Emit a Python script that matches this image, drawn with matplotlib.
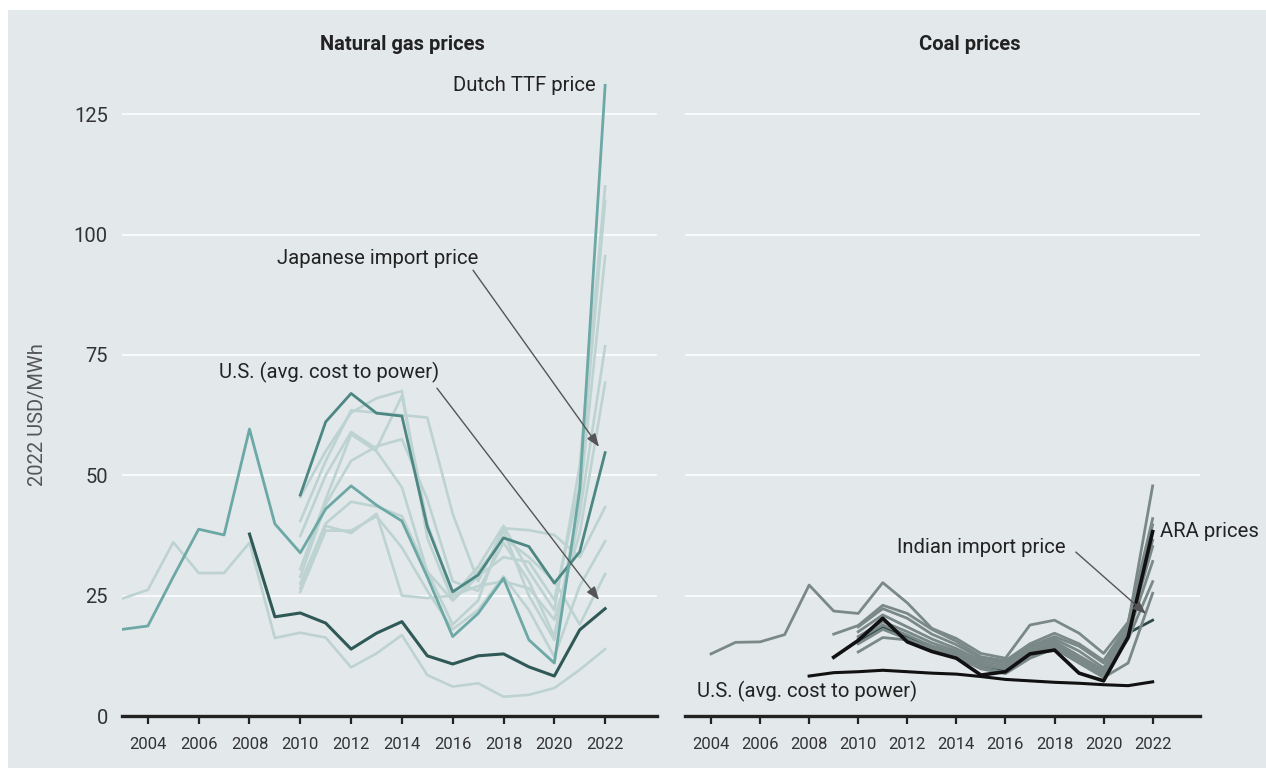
import matplotlib
matplotlib.use("Agg")
import matplotlib.pyplot as plt
from matplotlib.patches import Rectangle

plt.rcParams['font.family'] = ['Roboto', 'DejaVu Sans']

# ---------------- data ----------------
gas_years_long = list(range(2003, 2023))
ttf_price = [18.0, 18.7, 28.9, 38.8, 37.6, 59.6, 39.9, 33.9, 43.0, 47.8, 43.8, 40.5,
             28.9, 16.5, 21.3, 28.6, 15.8, 11.0, 47.0, 131.0]
gas_light_long = [24.4, 26.2, 36.1, 29.7, 29.7, 36.0, 16.2, 17.3, 16.3, 10.1, 13.0, 16.8,
                  8.5, 6.1, 6.8, 4.0, 4.4, 5.8, 9.6, 13.9]

us_gas_years = list(range(2008, 2023))
us_gas_cost = [37.8, 20.6, 21.4, 19.3, 13.9, 17.2, 19.6, 12.5, 10.8, 12.5, 12.9, 10.2, 8.3, 17.9, 22.3]

gas_years_short = list(range(2010, 2023))
japan_import = [45.9, 61.1, 67.0, 62.9, 62.3, 39.3, 25.8, 29.3, 37.0, 35.2, 27.6, 34.1, 54.7]
gas_light_a = [40.5, 53.0, 63.5, 63.0, 62.5, 62.0, 42.0, 28.0, 39.0, 38.6, 37.6, 33.0, 43.4]
gas_light_b = [37.4, 50.0, 59.0, 55.5, 66.5, 40.0, 25.0, 31.0, 39.5, 30.0, 22.0, 52.0, 110.0]
gas_light_c = [30.5, 45.0, 58.5, 55.0, 47.5, 30.0, 24.0, 29.0, 33.0, 32.0, 24.1, 48.0, 107.0]
gas_light_d = [28.9, 44.0, 53.0, 56.0, 57.5, 45.0, 28.0, 26.0, 36.0, 28.0, 16.5, 45.0, 95.5]
gas_light_e = [27.5, 40.0, 44.5, 43.5, 41.5, 30.0, 19.0, 24.0, 38.5, 25.0, 15.8, 42.0, 76.8]
gas_light_f = [26.5, 39.5, 38.0, 42.0, 25.0, 24.5, 25.0, 27.0, 28.0, 26.5, 20.0, 38.0, 69.2]
gas_light_g = [25.8, 38.5, 38.5, 41.5, 35.0, 26.0, 18.0, 22.0, 29.0, 22.0, 12.3, 27.0, 36.3]
gas_light_h = [45.5, 55.0, 63.0, 66.0, 67.5, 37.0, 24.0, 30.0, 37.0, 33.0, 28.0, 19.0, 29.5]

coal_years_long = list(range(2004, 2023))
coal_gray_long = [12.9, 15.3, 15.4, 16.9, 27.2, 21.8, 21.3, 27.7, 23.5, 18.2, 16.1, 13.0,
                  12.0, 18.9, 19.9, 17.2, 13.0, 19.5, 41.0]
coal_years_09 = list(range(2009, 2023))
coal_gray_1 = [17.0, 18.8, 23.0, 21.3, 18.0, 15.5, 12.3, 11.5, 15.0, 17.2, 15.0, 11.5, 19.0, 47.8]
ara_price = [12.2, 15.7, 20.3, 15.4, 13.4, 12.0, 8.5, 9.2, 12.9, 13.7, 8.9, 7.3, 16.4, 38.3]
coal_years_10 = list(range(2010, 2023))
coal_gray_2 = [18.5, 22.3, 20.3, 17.0, 14.8, 12.0, 11.0, 14.5, 16.5, 14.5, 11.0, 18.5, 39.7]
coal_gray_3 = [17.5, 21.0, 18.5, 16.0, 14.0, 11.5, 10.5, 14.0, 16.0, 13.5, 10.0, 18.0, 36.5]
coal_gray_4 = [16.5, 19.6, 17.5, 15.2, 13.5, 11.0, 10.0, 13.5, 15.5, 12.5, 9.5, 17.5, 35.2]
coal_gray_5 = [16.0, 18.9, 16.8, 14.5, 13.0, 10.5, 9.8, 13.0, 15.0, 12.0, 9.0, 17.0, 32.1]
coal_gray_6 = [13.3, 16.3, 15.8, 14.0, 12.5, 10.0, 9.0, 12.5, 14.5, 11.5, 8.5, 16.0, 27.9]
coal_gray_7 = [15.0, 18.0, 16.0, 13.8, 12.2, 9.8, 8.8, 12.0, 14.0, 11.0, 8.0, 11.0, 25.5]
india_import = [15.5, 18.5, 16.5, 14.5, 13.0, 10.5, 9.5, 13.0, 15.0, 11.5, 8.5, 17.2, 19.9]
us_coal_years = list(range(2008, 2023))
us_coal_cost = [8.3, 9.0, 9.2, 9.5, 9.2, 8.9, 8.7, 8.2, 7.6, 7.3, 7.0, 6.8, 6.5, 6.3, 7.1]

xtick_years = list(range(2004, 2023, 2))
yticks = [0, 25, 50, 75, 100, 125]

# ---------------- styling ----------------
BG = '#e3e8eb'
C_LIGHT = '#bdd3d1'
C_TTF = '#6ca8a5'
C_JAPAN = '#4d8783'
C_USGAS = '#2f5956'
C_COAL = '#7a8988'
C_BLACK = '#111111'
C_INDIA = '#2f4a48'
TXT = '#222222'
ANN_FS = 14.6

W, H = 1266, 771
fig = plt.figure(figsize=(W / 100, H / 100), dpi=100)
fig.patch.set_facecolor('white')
fig.add_artist(Rectangle((8 / W, 3 / H), 1 - 8 / W, 1 - 13 / H, transform=fig.transFigure,
                         facecolor=BG, edgecolor='none', zorder=0))

ax_bottom = (H - 716) / H
ax_height = (716 - 42) / H
ax1 = fig.add_axes([121.7 / W, ax_bottom, 535 / W, ax_height])
ax2 = fig.add_axes([685 / W, ax_bottom, 515 / W, ax_height])

for ax, xl in ((ax1, (2002.97, 2024.03)), (ax2, (2002.94, 2023.93))):
    ax.set_facecolor('none')
    ax.set_xlim(*xl)
    ax.set_ylim(0, 140)
    for s in ('top', 'right', 'left'):
        ax.spines[s].set_visible(False)
    ax.spines['bottom'].set_color('#222222')
    ax.spines['bottom'].set_linewidth(2.4)
    ax.spines['bottom'].set_zorder(5)
    ax.set_yticks(yticks)
    ax.grid(axis='y', color='white', linewidth=1.1, zorder=0)
    ax.set_axisbelow(True)
    ax.set_xticks(xtick_years)
    ax.set_xticklabels([str(y) for y in xtick_years])
    ax.tick_params(axis='x', direction='out', length=6, width=1.6, color='#222222',
                   labelsize=12, labelcolor='#333333', pad=9)
    ax.tick_params(axis='y', length=0, labelsize=14.5, labelcolor='#333333', pad=10)

ax2.tick_params(axis='y', labelleft=False)

# ---------------- natural gas ----------------
lw_light = 1.9
for series in (gas_light_a, gas_light_b, gas_light_c, gas_light_d,
               gas_light_e, gas_light_f, gas_light_g, gas_light_h):
    ax1.plot(gas_years_short, series, color=C_LIGHT, lw=lw_light, zorder=2)
ax1.plot(gas_years_long, gas_light_long, color=C_LIGHT, lw=lw_light, zorder=2)
ax1.plot(gas_years_short, japan_import, color=C_JAPAN, lw=2.0, zorder=3)
ax1.plot(us_gas_years, us_gas_cost, color=C_USGAS, lw=2.2, zorder=3)
ax1.plot(gas_years_long, ttf_price, color=C_TTF, lw=2.0, zorder=4)

arrow_kw = dict(arrowstyle='-|>,head_length=0.8,head_width=0.3', color='#555555', lw=1.0,
                shrinkA=0, shrinkB=0)
ax1.text(2021.64, 131, 'Dutch TTF price', ha='right', va='center', fontsize=ANN_FS, color=TXT)
ax1.text(2009.08, 95.1, 'Japanese import price', ha='left', va='center', fontsize=ANN_FS, color=TXT)
ax1.annotate('', xy=(2021.76, 55.9), xytext=(2016.8, 92.6), arrowprops=arrow_kw, zorder=6)
ax1.text(2006.8, 71.4, 'U.S. (avg. cost to power)', ha='left', va='center', fontsize=ANN_FS, color=TXT)
ax1.annotate('', xy=(2021.76, 24.1), xytext=(2015.38, 68.1), arrowprops=arrow_kw, zorder=6)

# ---------------- coal ----------------
lw_coal = 2.0
ax2.plot(coal_years_10, india_import, color=C_INDIA, lw=lw_coal, zorder=2)
for series in (coal_gray_2, coal_gray_3, coal_gray_4, coal_gray_5, coal_gray_6, coal_gray_7):
    ax2.plot(coal_years_10, series, color=C_COAL, lw=lw_coal, zorder=3)
ax2.plot(coal_years_09, coal_gray_1, color=C_COAL, lw=lw_coal, zorder=3)
ax2.plot(coal_years_long, coal_gray_long, color=C_COAL, lw=lw_coal, zorder=3)
ax2.plot(coal_years_09, ara_price, color=C_BLACK, lw=2.6, zorder=4)
ax2.plot(us_coal_years, us_coal_cost, color=C_BLACK, lw=2.2, zorder=4)

ax2.text(2011.58, 34.9, 'Indian import price', ha='left', va='center', fontsize=ANN_FS, color=TXT)
ax2.annotate('', xy=(2021.73, 21.2), xytext=(2018.87, 34.05), arrowprops=arrow_kw, zorder=6)
ax2.text(2022.30, 38.4, 'ARA prices', ha='left', va='center', fontsize=ANN_FS, color=TXT)
ax2.text(2003.43, 5.0, 'U.S. (avg. cost to power)', ha='left', va='center', fontsize=ANN_FS, color=TXT)

# ---------------- titles / labels ----------------
fig.text(402 / W, 1 - 44 / H, 'Natural gas prices', ha='center', va='center',
         fontsize=14.5, fontweight='bold', color=TXT)
fig.text(970 / W, 1 - 44 / H, 'Coal prices', ha='center', va='center',
         fontsize=14.5, fontweight='bold', color=TXT)
fig.text(37 / W, 1 - 415 / H, '2022 USD/MWh', ha='center', va='center', rotation=90,
         fontsize=14.5, color='#555555')

fig.savefig('out.png', dpi=100, facecolor=fig.get_facecolor())
